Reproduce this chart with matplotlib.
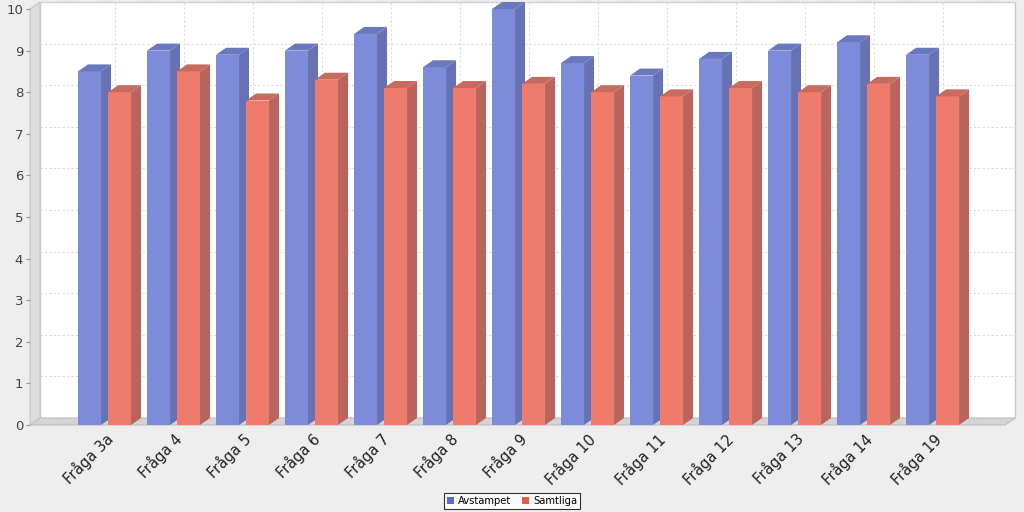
import matplotlib
matplotlib.use("Agg")
import matplotlib.pyplot as plt
from matplotlib.patches import Polygon, Patch

categories = ["Fråga 3a", "Fråga 4", "Fråga 5", "Fråga 6", "Fråga 7", "Fråga 8", "Fråga 9",
              "Fråga 10", "Fråga 11", "Fråga 12", "Fråga 13", "Fråga 14", "Fråga 19"]
avstampet = [8.5, 9.0, 8.9, 9.0, 9.4, 8.6, 10.0, 8.7, 8.4, 8.8, 9.0, 9.2, 8.9]
samtliga = [8.0, 8.5, 7.8, 8.3, 8.1, 8.1, 8.2, 8.0, 7.9, 8.1, 8.0, 8.2, 7.9]

W, H = 1024, 512
fig = plt.figure(figsize=(W / 100, H / 100), dpi=100)
fig.patch.set_facecolor("#eeeeee")

# front plane of the 3d plot, in pixels
left, right, bottom, top = 30, 1005, 425, 9
ax = fig.add_axes([left / W, (H - bottom) / H, (right - left) / W, (bottom - top) / H])
ax.patch.set_visible(False)
for s in ax.spines.values():
    s.set_visible(False)

x0, x1 = -1.08, 13.05
ax.set_xlim(x0, x1)
ax.set_ylim(0, 10)

# 3d depth offset converted to data units
ddx = 10 * (x1 - x0) / (right - left)
ddy = 7 * 10 / (bottom - top)

# back wall, left wall and floor
ax.add_patch(Polygon([(x0 + ddx, ddy), (x1 + ddx, ddy), (x1 + ddx, 10 + ddy), (x0 + ddx, 10 + ddy)],
                     closed=True, facecolor="white", edgecolor="#c8c8c8", lw=1, clip_on=False, zorder=0))
ax.add_patch(Polygon([(x0, 0), (x0, 10), (x0 + ddx, 10 + ddy), (x0 + ddx, ddy)],
                     closed=True, facecolor="#dcdcdc", edgecolor="#c8c8c8", lw=0.8, clip_on=False, zorder=0.5))
ax.add_patch(Polygon([(x0, 0), (x1, 0), (x1 + ddx, ddy), (x0 + ddx, ddy)],
                     closed=True, facecolor="#d4d4d4", edgecolor="#c0c0c0", lw=0.8, clip_on=False, zorder=0.5))

# grid on the back wall
for v in range(1, 11):
    ax.plot([x0 + ddx, x1 + ddx], [v + ddy, v + ddy], color="#dcdcdc", lw=0.8,
            ls=(0, (2, 2)), clip_on=False, zorder=0.2)
for i in range(len(categories)):
    ax.plot([i + ddx, i + ddx], [ddy, 10 + ddy], color="#dcdcdc", lw=0.8,
            ls=(0, (2, 2)), clip_on=False, zorder=0.2)

bw = 23 / 69
off = 15 / 69
series = [
    (avstampet, -off, "#7d8bdb", "#6672b4", "#6a78bd", "#5a66d6"),
    (samtliga, off, "#ef7b6d", "#b9655d", "#c96a5f", "#ec5a4a"),
]

z = 2
for i in range(len(categories)):
    for vals, dx, front, side, topc, _ in series:
        h = vals[i]
        xl = i + dx - bw / 2
        xr = i + dx + bw / 2
        ax.bar(i + dx, h, width=bw, color=front, zorder=z, linewidth=0)
        ax.add_patch(Polygon([(xr, 0), (xr, h), (xr + ddx, h + ddy), (xr + ddx, ddy)],
                             closed=True, facecolor=side, lw=0, zorder=z, clip_on=False))
        ax.add_patch(Polygon([(xl, h), (xr, h), (xr + ddx, h + ddy), (xl + ddx, h + ddy)],
                             closed=True, facecolor=topc, lw=0, zorder=z, clip_on=False))
        z += 1

ax.set_yticks(range(0, 11))
ax.set_yticklabels([str(v) for v in range(0, 11)], fontsize=9.5, color="#444444")
ax.tick_params(axis="y", length=3, width=0.8, color="#999999", pad=2)
ax.set_xticks(range(len(categories)))
ax.set_xticklabels(categories, rotation=45, ha="right", rotation_mode="anchor",
                   fontsize=10.5, color="#222222")
ax.tick_params(axis="x", length=0, pad=4)
for lab in ax.get_xticklabels():
    x, y = lab.get_position()
    lab.set_x(x + 0.04)

handles = [Patch(facecolor=s[5], edgecolor="none") for s in series]
leg = fig.legend(handles, ["Avstampet", "Samtliga"], loc="center", bbox_to_anchor=(0.5, 11 / H),
                 ncol=2, fontsize=7.2, frameon=True, fancybox=False, edgecolor="black",
                 handlelength=0.7, handleheight=0.7, handletextpad=0.4, columnspacing=1.1,
                 borderpad=0.3)
leg.get_frame().set_linewidth(0.8)

fig.savefig("out.png", dpi=100, facecolor=fig.get_facecolor())
